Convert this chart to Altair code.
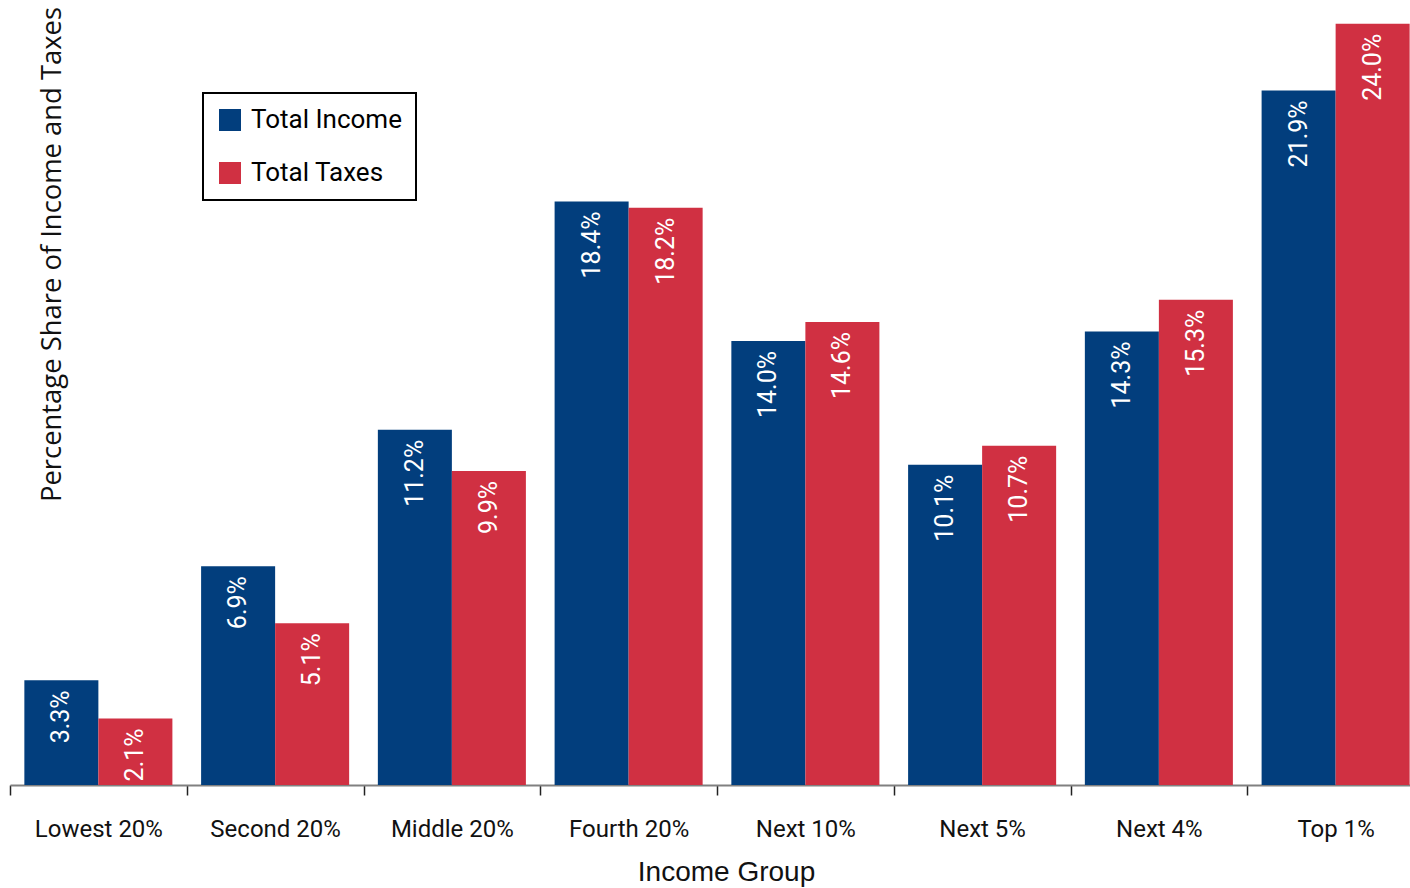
import altair as alt
import pandas as pd

# Shares of total income and total federal taxes by income group (percent)
groups = ["Lowest 20%", "Second 20%", "Middle 20%", "Fourth 20%",
          "Next 10%", "Next 5%", "Next 4%", "Top 1%"]
income_share = [3.3, 6.9, 11.2, 18.4, 14.0, 10.1, 14.3, 21.9]
tax_share = [2.1, 5.1, 9.9, 18.2, 14.6, 10.7, 15.3, 24.0]
series = ["Total Income", "Total Taxes"]
colors = ["#023E7D", "#D03042"]

rows = []
for g, inc, tax in zip(groups, income_share, tax_share):
    rows.append({"group": g, "series": series[0], "share": inc})
    rows.append({"group": g, "series": series[1], "share": tax})
df = pd.DataFrame(rows)
df["label"] = df["share"].map(lambda v: f"{v:.1f}%")

NARROW = "Roboto"

x_enc = alt.X(
    "group:N",
    sort=groups,
    scale=alt.Scale(range=[0, 1414], paddingInner=0, paddingOuter=0),
    axis=alt.Axis(
        title="Income Group",
        labelAngle=0,
        labelFont=NARROW,
        labelFontSize=24,
        labelColor="#111111",
        labelPadding=22,
        tickBand="extent",
        tickSize=10,
        tickColor="#222222",
        tickWidth=1.5,
        domainColor="#808080",
        domainWidth=2,
        titleFont="Liberation Sans",
        titleFontSize=28,
        titleFontWeight="normal",
        titleColor="#111111",
        titleX=716,
        titleY=95,
        titleBaseline="alphabetic",
    ),
)
xo_enc = alt.XOffset(
    "series:N",
    sort=series,
    scale=alt.Scale(paddingInner=0, paddingOuter=0.194),
)
y_enc = alt.Y(
    "share:Q",
    scale=alt.Scale(domain=[0, 24.75], nice=False, zero=True),
    axis=alt.Axis(
        title="Percentage Share of Income and Taxes",
        labels=False,
        ticks=False,
        domain=False,
        grid=False,
        titleFont="Open Sans",
        titleFontSize=27.4,
        titleFontWeight="normal",
        titleColor="#111111",
        titleAngle=270,
        titleAlign="center",
        titleBaseline="middle",
        titleX=42,
        titleY=254,
    ),
)

base = alt.Chart(df).encode(x=x_enc, xOffset=xo_enc, y=y_enc)

bars = base.mark_bar().encode(
    color=alt.Color(
        "series:N",
        sort=series,
        scale=alt.Scale(domain=series, range=colors),
        legend=alt.Legend(title=None, orient="none", legendX=193, legendY=93),
    )
)

labels = base.mark_text(
    angle=270,
    align="right",
    baseline="middle",
    dx=-10,
    color="white",
    font=NARROW,
    fontSize=25,
).encode(text="label:N")

chart = (
    alt.layer(bars, labels)
    .properties(
        width=1400,
        height=785,
        autosize=alt.AutoSizeParams(type="none"),
        padding={"left": 10, "top": 0, "right": 0, "bottom": 103},
        background="white",
    )
    .configure_view(stroke=None)
    .configure_legend(
        strokeColor="black",
        strokeWidth=2,
        padding=14,
        symbolType="square",
        symbolSize=484,
        symbolStrokeWidth=0,
        symbolOpacity=1,
        labelFont=NARROW,
        labelFontSize=26,
        labelColor="black",
        labelOffset=8,
        rowPadding=27,
        labelLimit=300,
    )
)

chart.save("out.html", embed_options={"renderer": "svg", "actions": False})
